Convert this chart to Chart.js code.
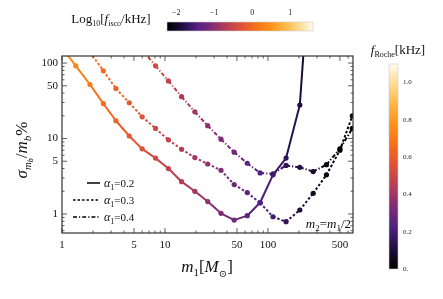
<!DOCTYPE html>
<html>
<head>
<meta charset="utf-8">
<script src="https://cdn.jsdelivr.net/npm/chart.js@4.4.0/dist/chart.umd.min.js"></script>
<style>
  html, body { margin: 0; padding: 0; background: #fff; }
</style>
</head>
<body>
<canvas id="chart" width="443" height="299"></canvas>
<script>
// primary mass grid (M_sun) and relative errors (%) for each alpha_1
const massGrid = [1.0, 1.36, 1.87, 2.52, 3.34, 4.5, 6.0, 8.1, 10.8, 14.5, 19.5, 26, 35, 47, 63, 84, 112, 150, 204, 275, 370, 500, 660];
const sigmaAlpha02 = [160, 92, 52, 29, 17.2, 10.8, 7.3, 5.5, 4.0, 2.68, 2.0, 1.46, 1.02, 0.83, 0.95, 1.42, 3.3, 5.5, 27.8, 9000, null, null, null];
const sigmaAlpha03 = [null, null, 140, 79, 46, 29.8, 19.4, 13.6, 9.6, 7.2, 5.6, 4.6, 3.8, 2.45, 1.92, 1.4, 0.92, 0.79, 1.13, 1.88, 3.3, 7.0, 20];
const sigmaAlpha04 = [null, null, null, null, null, null, 148, 92, 58, 35.8, 22.6, 14.8, 9.8, 6.6, 4.7, 3.5, 3.4, 4.4, 4.15, 3.65, 4.5, 7.3, 13.6];
const seriesLabels = ["\u03b1\u2081=0.2", "\u03b1\u2081=0.3", "\u03b1\u2081=0.4"];

const xTickLabels = [1, 5, 10, 50, 100, 500];
const yTickLabels = [1, 5, 10, 50, 100];
const fiscoTicks = [-2, -1, 0, 1];
const frocheTicks = [0, 0.2, 0.4, 0.6, 0.8, 1.0];

const SERIF = '"Liberation Serif", "DejaVu Serif", serif';

// sunset-like colour map
const stops = [
  [0.00, [0, 0, 0]],
  [0.10, [30, 14, 60]],
  [0.20, [78, 32, 130]],
  [0.30, [125, 44, 118]],
  [0.40, [178, 60, 88]],
  [0.50, [220, 80, 56]],
  [0.60, [247, 108, 28]],
  [0.70, [255, 142, 20]],
  [0.80, [255, 180, 66]],
  [0.90, [255, 218, 140]],
  [1.00, [255, 251, 240]]
];
function cmap(t) {
  t = Math.max(0, Math.min(1, t));
  for (let i = 1; i < stops.length; i++) {
    if (t <= stops[i][0]) {
      const [t0, c0] = stops[i - 1], [t1, c1] = stops[i];
      const f = (t - t0) / (t1 - t0);
      const c = c0.map((v, k) => Math.round(v + (c1[k] - v) * f));
      return `rgb(${c[0]},${c[1]},${c[2]})`;
    }
  }
  return 'rgb(255,251,240)';
}
// colour from log10 f_isco, f_isco ~ 4.4 kHz / M_total with m2 = m1/2
const LOGF_MIN = -2.24, LOGF_MAX = 1.6;
function massColor(m1) {
  const logf = Math.log10(4.4 / (1.5 * m1));
  return cmap((logf - LOGF_MIN) / (LOGF_MAX - LOGF_MIN));
}

function makeSet(values, label, dash) {
  return {
    label: label,
    data: massGrid.map((m, i) => ({ x: m, y: values[i] })).filter(p => p.y !== null),
    borderWidth: 2,
    borderDash: dash,
    pointRadius: 2.6,
    pointBorderWidth: 0,
    pointBackgroundColor: ctx => massColor(ctx.raw ? ctx.raw.x : 1),
    segment: {
      borderColor: ctx => massColor(Math.sqrt(ctx.p0.parsed.x * ctx.p1.parsed.x))
    },
    tension: 0
  };
}

function drawRich(ctx, parts, x, y, align) {
  let w = 0;
  parts.forEach(p => {
    ctx.font = `${p.it ? 'italic ' : ''}${p.s}px ${SERIF}`;
    p.w = ctx.measureText(p.t).width;
    w += p.w;
  });
  let cx = align === 'center' ? x - w / 2 : (align === 'right' ? x - w : x);
  ctx.textAlign = 'left';
  ctx.textBaseline = 'alphabetic';
  parts.forEach(p => {
    ctx.font = `${p.it ? 'italic ' : ''}${p.s}px ${SERIF}`;
    ctx.fillText(p.t, cx, y + (p.dy || 0));
    cx += p.w;
  });
}

const decorPlugin = {
  id: 'decor',
  afterDraw(chart) {
    const ctx = chart.ctx;
    const a = chart.chartArea;
    const xs = chart.scales.x, ys = chart.scales.y;
    ctx.save();
    // frame
    ctx.strokeStyle = '#333';
    ctx.lineWidth = 1.2;
    ctx.strokeRect(a.left, a.top, a.right - a.left, a.bottom - a.top);
    // inward ticks
    ctx.lineWidth = 0.8;
    ctx.beginPath();
    [1, 10, 100].forEach(d => {
      for (let k = 1; k <= 9; k++) {
        const v = d * k;
        if (v < xs.min || v > xs.max) continue;
        const px = xs.getPixelForValue(v);
        const len = xTickLabels.includes(v) ? 5 : 2.5;
        ctx.moveTo(px, a.bottom); ctx.lineTo(px, a.bottom - len);
        ctx.moveTo(px, a.top); ctx.lineTo(px, a.top + len);
      }
    });
    [0.1, 1, 10, 100].forEach(d => {
      for (let k = 1; k <= 9; k++) {
        const v = d * k;
        if (v < ys.min || v > ys.max) continue;
        const py = ys.getPixelForValue(v);
        const len = yTickLabels.includes(Math.round(v * 1000) / 1000) ? 5 : 2.5;
        ctx.moveTo(a.left, py); ctx.lineTo(a.left + len, py);
        ctx.moveTo(a.right, py); ctx.lineTo(a.right - len, py);
      }
    });
    ctx.stroke();

    ctx.fillStyle = '#111';
    // axis titles
    drawRich(ctx, [
      { t: 'm', it: true, s: 17 }, { t: '1', s: 11, dy: 4 },
      { t: '[', s: 17 }, { t: 'M', it: true, s: 17 }, { t: '\u2299', s: 10, dy: 5 }, { t: ']', s: 17 }
    ], 207, 272, 'center');
    ctx.save();
    ctx.translate(27, 150);
    ctx.rotate(-Math.PI / 2);
    drawRich(ctx, [
      { t: '\u03c3', it: true, s: 17 }, { t: 'm', it: true, s: 11, dy: 4 }, { t: 'b', it: true, s: 8, dy: 6 },
      { t: '/', s: 17 }, { t: 'm', it: true, s: 17 }, { t: 'b', it: true, s: 11, dy: 4 }, { t: '%', s: 17 }
    ], 0, 0, 'center');
    ctx.restore();

    // legend
    const legY = [183, 200, 217];
    const dashes = [[], [2.5, 2], [4, 2, 1.2, 2]];
    const legX0 = [87, 73, 73];
    ctx.strokeStyle = '#000';
    ctx.lineWidth = 1.5;
    legY.forEach((ly, i) => {
      ctx.setLineDash(dashes[i]);
      ctx.beginPath(); ctx.moveTo(legX0[i], ly); ctx.lineTo(100, ly); ctx.stroke();
      drawRich(ctx, [
        { t: '\u03b1', it: true, s: 12 }, { t: '1', s: 8, dy: 3 }, { t: '=' + seriesLabels[i].split('=')[1], s: 11 }
      ], 104, ly + 4, 'left');
    });
    ctx.setLineDash([]);

    // m2 = m1/2 note
    drawRich(ctx, [
      { t: 'm', it: true, s: 13 }, { t: '2', s: 9, dy: 3 }, { t: '=', s: 13 },
      { t: 'm', it: true, s: 13 }, { t: '1', s: 9, dy: 3 }, { t: '/2', s: 13 }
    ], 351, 228, 'right');

    // top colour bar: log10 f_isco
    const bx0 = 167, bx1 = 313, by0 = 22, by1 = 31;
    const gH = ctx.createLinearGradient(bx0, 0, bx1, 0);
    for (let i = 0; i <= 40; i++) gH.addColorStop(i / 40, cmap(i / 40));
    ctx.fillStyle = gH;
    ctx.fillRect(bx0, by0, bx1 - bx0, by1 - by0);
    ctx.strokeStyle = '#ccc';
    ctx.lineWidth = 0.6;
    ctx.strokeRect(bx0, by0, bx1 - bx0, by1 - by0);
    ctx.fillStyle = '#222';
    ctx.font = `8px ${SERIF}`;
    ctx.textAlign = 'center';
    ctx.textBaseline = 'middle';
    fiscoTicks.forEach(v => {
      const px = bx0 + (v - LOGF_MIN) / (LOGF_MAX - LOGF_MIN) * (bx1 - bx0);
      ctx.fillText(v < 0 ? '\u2212' + Math.abs(v) : String(v), px, 13);
    });
    ctx.fillStyle = '#111';
    drawRich(ctx, [
      { t: 'Log', s: 13 }, { t: '10', s: 8, dy: 3 }, { t: '[', s: 13 }, { t: 'f', it: true, s: 13 },
      { t: 'isco', s: 8, dy: 3 }, { t: '/kHz]', s: 13 }
    ], 111, 23, 'center');

    // right colour bar: f_Roche
    const rx0 = 389, rx1 = 398, ry0 = 64, ry1 = 269, rmax = 1.1;
    const gV = ctx.createLinearGradient(0, ry1, 0, ry0);
    for (let i = 0; i <= 40; i++) gV.addColorStop(i / 40, cmap(i / 40));
    ctx.fillStyle = gV;
    ctx.fillRect(rx0, ry0, rx1 - rx0, ry1 - ry0);
    ctx.strokeStyle = '#ccc';
    ctx.strokeRect(rx0, ry0, rx1 - rx0, ry1 - ry0);
    ctx.fillStyle = '#222';
    ctx.font = `7px ${SERIF}`;
    ctx.textAlign = 'left';
    ctx.textBaseline = 'middle';
    frocheTicks.forEach(v => {
      const py = ry1 - v / rmax * (ry1 - ry0);
      ctx.fillText(v === 0 ? '0.' : v.toFixed(1), 403, py);
    });
    ctx.fillStyle = '#111';
    drawRich(ctx, [
      { t: 'f', it: true, s: 13 }, { t: 'Roche', s: 8, dy: 3 }, { t: '[kHz]', s: 13 }
    ], 398, 54, 'center');
    ctx.restore();
  }
};

new Chart(document.getElementById('chart'), {
  type: 'line',
  data: {
    datasets: [
      makeSet(sigmaAlpha02, seriesLabels[0], []),
      makeSet(sigmaAlpha03, seriesLabels[1], [2.5, 2]),
      makeSet(sigmaAlpha04, seriesLabels[2], [4, 2, 1.2, 2])
    ]
  },
  options: {
    responsive: false,
    animation: false,
    layout: { padding: { left: 0, right: 90, top: 56, bottom: 0 } },
    plugins: { legend: { display: false }, tooltip: { enabled: false } },
    scales: {
      x: {
        type: 'logarithmic',
        min: 1,
        max: 670,
        grid: { display: false, drawTicks: false },
        border: { display: false },
        afterBuildTicks: s => { s.ticks = xTickLabels.map(v => ({ value: v })); },
        afterFit: s => { s.height = 66; },
        ticks: {
          autoSkip: false, maxRotation: 0, padding: 6, color: '#111',
          font: { family: SERIF, size: 11 },
          callback: v => String(v)
        }
      },
      y: {
        type: 'logarithmic',
        min: 0.56,
        max: 124,
        grid: { display: false, drawTicks: false },
        border: { display: false },
        afterBuildTicks: s => { s.ticks = yTickLabels.map(v => ({ value: v })); },
        afterFit: s => { s.width = 62; },
        ticks: {
          autoSkip: false, padding: 4, color: '#111',
          font: { family: SERIF, size: 11 },
          callback: v => String(v)
        }
      }
    }
  },
  plugins: [decorPlugin]
});
</script>
</body>
</html>
